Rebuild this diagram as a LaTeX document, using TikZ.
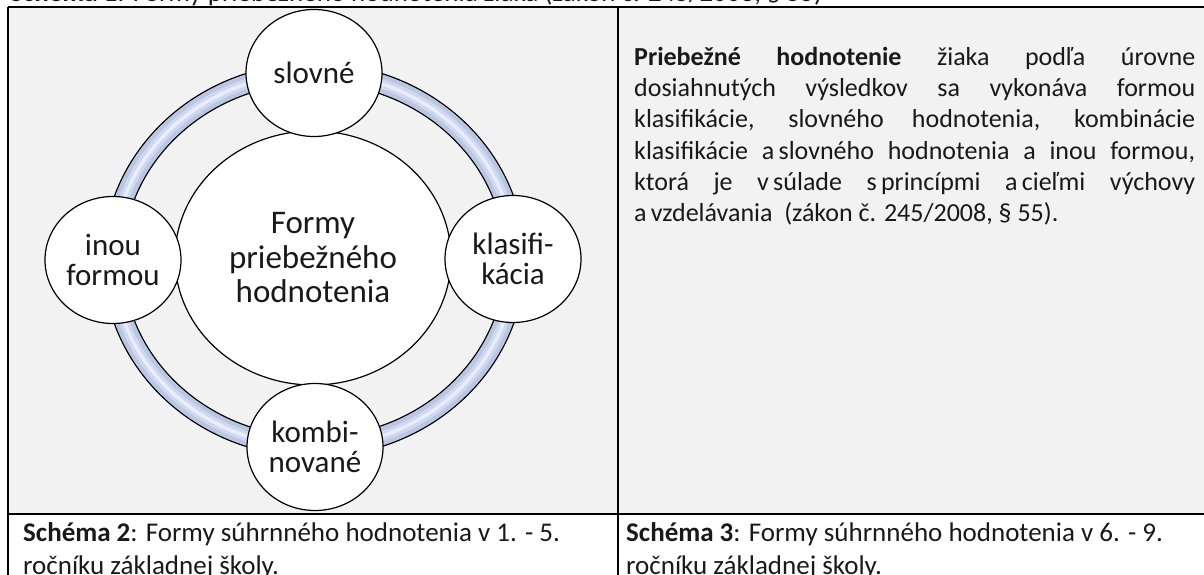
\documentclass[tikz,border=0pt]{standalone}
\usepackage{fontspec}
\setmainfont{Carlito}
\usetikzlibrary{shapes.geometric}
\definecolor{cellgrey}{RGB}{242,242,242}
\definecolor{ringedge}{RGB}{186,198,226}
\definecolor{ringmid}{RGB}{206,216,238}
\definecolor{ringlight}{RGB}{232,237,249}
\definecolor{txt}{RGB}{25,25,25}
\tikzset{
  tline/.style={line width=1.8pt, black},
  smallc/.style={ellipse, draw=black, line width=1.2pt, fill=white, minimum width=136pt, minimum height=127pt, inner sep=0pt, align=center, text=txt, font=\fontsize{31}{29.5}\selectfont},
  bigc/.style={ellipse, draw=black, line width=1.2pt, fill=white, minimum width=276pt, minimum height=254pt, inner sep=0pt, align=center, text=txt, font=\fontsize{33}{34.5}\selectfont},
  paraline/.style={anchor=base west, inner sep=0pt, text=txt, font=\fontsize{26}{31}\selectfont},
  capline/.style={anchor=base west, inner sep=0pt, text=txt, font=\fontsize{27}{33}\selectfont}
}
\begin{document}
\begin{tikzpicture}[x=1pt,y=-1pt]
\useasboundingbox (0,0) rectangle (1204,575);
\fill[white] (0,0) rectangle (1204,575);
\fill[cellgrey] (8,7) rectangle (1204,514);
% cut-off heading line above the table
\begin{scope}
\clip (0,0) rectangle (1204,6);
\node[capline] (toptext) at (10,2) {\textbf{Schéma 1}: Formy priebežného hodnotenia žiaka (zákon č. 245/2008, § 55)};
\end{scope}
% ring
\coordinate (c) at (314,260);
\draw[line width=21pt, black] (c) ellipse [x radius=201pt, y radius=187pt];
\draw[line width=18.4pt, ringedge] (c) ellipse [x radius=201pt, y radius=187pt];
\draw[line width=10pt, ringmid] (c) ellipse [x radius=201pt, y radius=187pt];
\draw[line width=3.5pt, ringlight] (c) ellipse [x radius=201pt, y radius=187pt];
% circles
\node[bigc] (center) at (313,258) {Formy\\priebežného\\hodnotenia};
\node[smallc] (slovne) at (314,73) {slovné};
\node[smallc] (klas) at (513,259) {klasifi-\\kácia};
\node[smallc] (komb) at (315,447) {kombi-\\nované};
\node[smallc] (inou) at (113,260) {inou\\formou};
% right paragraph
\node[paraline] (p1) at (634,66) {\makebox[561pt][s]{\textbf{Priebežné hodnotenie} žiaka podľa úrovne}};
\node[paraline] (p2) at (634,97) {\makebox[561pt][s]{dosiahnutých výsledkov sa vykonáva formou}};
\node[paraline] (p3) at (634,128) {\makebox[561pt][s]{klasifikácie, slovného hodnotenia, kombinácie}};
\node[paraline] (p4) at (634,159) {\makebox[561pt][s]{klasifikácie\ \ a\,slovného\ \ hodnotenia\ \ a\ \ inou\ \ formou,}};
\node[paraline] (p5) at (634,190) {\makebox[561pt][s]{ktorá je v\,súlade s\,princípmi a\,cieľmi výchovy}};
\node[paraline] (p6) at (634,221) {a\,vzdelávania\ \ (zákon č. 245/2008, § 55).};
% captions
\node[capline] (c2a) at (23,541) {\textbf{Schéma 2}: Formy súhrnného hodnotenia v 1. - 5.};
\node[capline] (c2b) at (23,574) {ročníku základnej školy.};
\node[capline] (c3a) at (626,541) {\textbf{Schéma 3}: Formy súhrnného hodnotenia v 6. - 9.};
\node[capline] (c3b) at (626,574) {ročníku základnej školy.};
% table rules
\draw[tline] (8,7) -- (1204,7);
\draw[tline] (8,7) -- (8,575);
\draw[tline] (618,7) -- (618,575);
\draw[tline] (8,514) -- (1204,514);
\end{tikzpicture}
\end{document}
